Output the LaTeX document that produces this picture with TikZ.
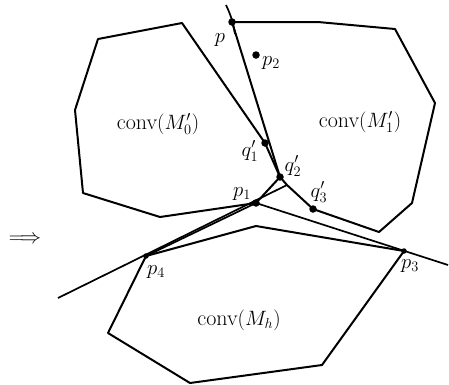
\documentclass[tikz,border=0pt]{standalone}
\begin{document}
\begin{tikzpicture}[x=1pt,y=-1pt,
  hull/.style={line width=2pt, line join=round},
  ln/.style={line width=1.7pt},
  dot/.style={circle,fill,inner sep=0pt,minimum size=7.5pt},
  sdot/.style={circle,fill,inner sep=0pt,minimum size=5.5pt},
  lab/.style={font=\fontsize{22}{24}\selectfont, inner sep=1pt},
  slab/.style={font=\fontsize{20}{22}\selectfont, inner sep=0.5pt}]
\useasboundingbox (0,0) rectangle (449,384);
% key points
\coordinate (p) at (232,22);
\coordinate (p2) at (256,55);
\coordinate (q1) at (265,143);
\coordinate (q2) at (280,177);
\coordinate (q3) at (313,209);
\coordinate (p1) at (256,203);
\coordinate (p3) at (404,251);
\coordinate (p4) at (146,256);
\coordinate (t) at (287,185);
% conv(M0')
\coordinate (a1) at (75,110);
\coordinate (a2) at (98,39);
\coordinate (a3) at (182,23);
\coordinate (a4) at (160,217);
\coordinate (a5) at (83,193);
% conv(M1')
\coordinate (b0) at (318,22);
\coordinate (b1) at (395,29);
\coordinate (b2) at (435,103);
\coordinate (b3) at (412,203);
\coordinate (b4) at (379,232);
% conv(Mh)
\coordinate (c1) at (256,226);
\coordinate (c2) at (322,365);
\coordinate (c3) at (190,383);
\coordinate (c4) at (108,333);
% line ends
\coordinate (e1) at (58,298);
\coordinate (e2) at (448,265);
\coordinate (s1) at (226,5);
\coordinate (s2) at (235,34);

\draw[hull] (a1) -- (a2) -- (a3) -- (q1) -- (q2) -- (p1) -- (a4) -- (a5) -- cycle;
\draw[hull] (p) -- (b0) -- (b1) -- (b2) -- (b3) -- (b4) -- (q3) -- (t) -- (q2) -- cycle;
\draw[hull] (p4) -- (c1) -- (p3) -- (c2) -- (c3) -- (c4) -- cycle;
\draw[ln] (e1) -- (t);
\draw[ln] (p4) -- (p1);
\draw[ln] (p1) -- (e2);
\draw[ln] (s1) to[bend left=8] (s2);

\node[dot] (np) at (p) {};
\node[dot] (np2) at (p2) {};
\node[dot] (nq1) at (q1) {};
\node[dot] (nq2) at (q2) {};
\node[dot] (nq3) at (q3) {};
\node[dot] (np1) at (p1) {};
\node[sdot] (np3) at (p3) {};
\node[sdot] (np4) at (p4) {};

\node[slab] (lp) at (220,40) {$p$};
\node[slab] (lp2) at (271,63) {$p_2$};
\node[slab] (lq1) at (250,151) {$q_1'$};
\node[slab] (lq2) at (293,166) {$q_2'$};
\node[slab] (lp1) at (242,194) {$p_1$};
\node[slab] (lq3) at (319,192) {$q_3'$};
\node[slab] (lp4) at (156,272) {$p_4$};
\node[slab] (lp3) at (410,266) {$p_3$};
\node[lab] (m0) at (158,124) {conv$(M_0')$};
\node[lab] (m1) at (360,122) {conv$(M_1')$};
\node[lab] (mh) at (239,320) {conv$(M_h)$};
\node[lab] (arr) at (25,240) {$\Longrightarrow$};
\end{tikzpicture}
\end{document}
